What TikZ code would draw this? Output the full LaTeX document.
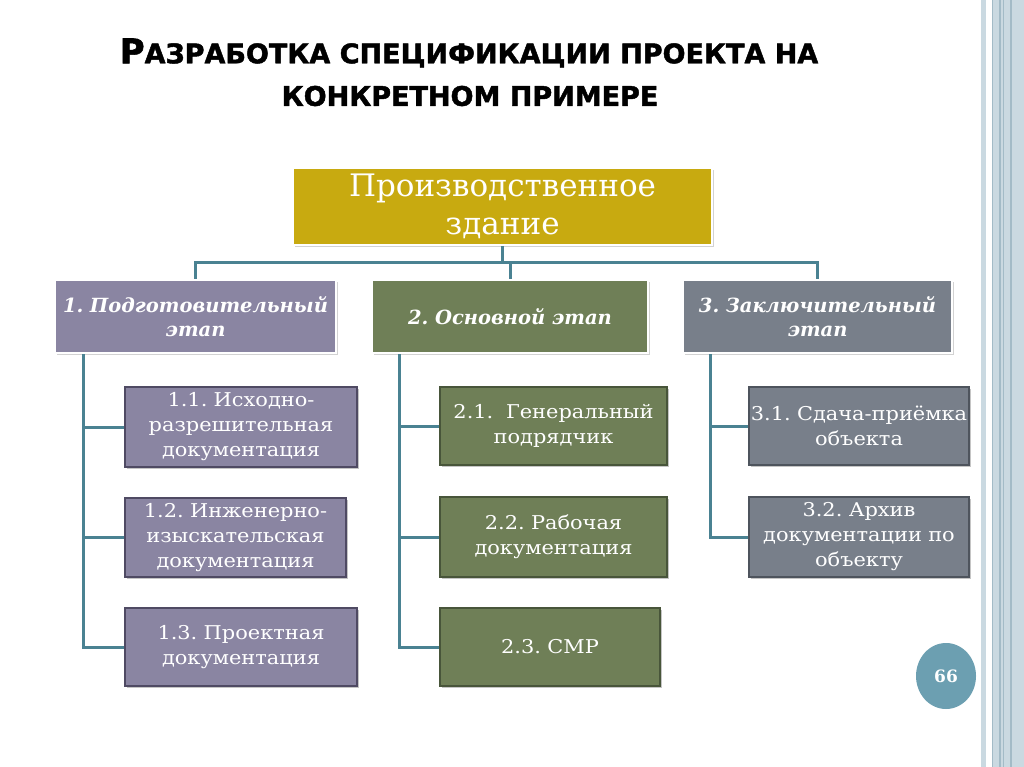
\documentclass[tikz,border=0pt]{standalone}
\usepackage{fontspec}
\setmainfont{DejaVu Serif}
\newfontfamily\titlefont{DejaVu Sans}[FakeBold=1.6]
\newfontfamily\itemfont{DejaVu Serif}[FakeStretch=1.1]
\usetikzlibrary{shadows,shapes.geometric}
\definecolor{goldc}{HTML}{C8AA10}
\definecolor{purplec}{HTML}{8A85A2}
\definecolor{purpled}{HTML}{4F4A63}
\definecolor{greenc}{HTML}{6F7F57}
\definecolor{greend}{HTML}{48553A}
\definecolor{grayc}{HTML}{787F8A}
\definecolor{grayd}{HTML}{4E545D}
\definecolor{connc}{HTML}{4A8292}
\definecolor{circc}{HTML}{6C9FB1}
\definecolor{stripec}{HTML}{CAD9E1}
\definecolor{striped}{HTML}{A3BBC7}
\tikzset{
  topbox/.style={draw=white, line width=2.5pt, fill=goldc, text=white, inner sep=0pt, align=center,
    font=\fontsize{31}{38}\selectfont,
    drop shadow={opacity=0.35, shadow xshift=1.5pt, shadow yshift=-2pt}},
  stagebox/.style={draw=white, line width=2.5pt, text=white, inner sep=0pt, align=center,
    font=\fontsize{19.5}{24}\selectfont\bfseries\itshape,
    drop shadow={opacity=0.35, shadow xshift=1.5pt, shadow yshift=-2pt}},
  itembox/.style={line width=1.6pt, text=white, inner sep=0pt, align=center,
    font=\itemfont\fontsize{19}{25}\selectfont,
    drop shadow={opacity=0.45, shadow xshift=2pt, shadow yshift=-2pt}},
  conn/.style={draw=connc, line width=3pt},
}
\frenchspacing
\begin{document}
\frenchspacing
\begin{tikzpicture}[x=1pt,y=-1pt]
\useasboundingbox (0,0) rectangle (1024,767);
\fill[white] (0,0) rectangle (1024,767);
% right decorative stripes
\fill[stripec] (981,0) rectangle (985.5,767);
\fill[stripec] (991.5,0) rectangle (1024,767);
\foreach \xx in {992.5,1000,1003.5,1011}{\fill[striped] (\xx-0.6,0) rectangle (\xx+0.6,767);}
% title
\node[font=\titlefont\bfseries] (title1) at (469,53)
  {\fontsize{34}{34}\selectfont Р\fontsize{27}{27}\selectfont АЗРАБОТКА СПЕЦИФИКАЦИИ ПРОЕКТА НА};
\node[font=\titlefont\bfseries] (title2) at (470,96)
  {\fontsize{27}{27}\selectfont КОНКРЕТНОМ ПРИМЕРЕ};
% boxes
\node[topbox, minimum width=419pt, minimum height=77pt, text width=410pt] (top) at (502.5,206.5)
  {Производственное\\здание};
\node[stagebox, fill=purplec, minimum width=281pt, minimum height=73pt, text width=280pt] (p1) at (195.5,316.5)
  {1. Подготовительный\\этап};
\node[stagebox, fill=greenc, minimum width=276pt, minimum height=73pt, text width=270pt] (p2) at (510,316.5)
  {2. Основной этап};
\node[stagebox, fill=grayc, minimum width=269pt, minimum height=73pt, text width=268pt] (p3) at (817.5,316.5)
  {3. Заключительный\\этап};
\node[itembox, fill=purplec, draw=purpled, minimum width=232pt, minimum height=80pt, text width=230pt] (c11) at (241,427)
  {1.1. Исходно-\\разрешительная\\документация};
\node[itembox, fill=purplec, draw=purpled, minimum width=221pt, minimum height=79pt, text width=220pt] (c12) at (235.5,537.5)
  {1.2. Инженерно-\\изыскательская\\документация};
\node[itembox, fill=purplec, draw=purpled, minimum width=232pt, minimum height=78pt, text width=230pt] (c13) at (241,647)
  {1.3. Проектная\\документация};
\node[itembox, fill=greenc, draw=greend, minimum width=227pt, minimum height=78pt, text width=226pt] (c21) at (553.5,426)
  {2.1.\ \ Генеральный\\подрядчик};
\node[itembox, fill=greenc, draw=greend, minimum width=227pt, minimum height=80pt, text width=226pt] (c22) at (553.5,537)
  {2.2. Рабочая\\документация};
\node[itembox, fill=greenc, draw=greend, minimum width=220pt, minimum height=78pt, text width=218pt] (c23) at (550,647)
  {2.3. СМР};
\node[itembox, fill=grayc, draw=grayd, minimum width=220pt, minimum height=78pt, text width=220pt] (c31) at (859,426)
  {3.1. Сдача-приёмка\\объекта};
\node[itembox, fill=grayc, draw=grayd, minimum width=220pt, minimum height=80pt, text width=220pt] (c32) at (859,537)
  {3.2. Архив\\документации по\\объекту};
% page number
\node[ellipse, fill=circc, text=white, minimum width=60pt, minimum height=66pt, inner sep=0pt,
  font=\fontsize{17}{17}\selectfont\bfseries] (page) at (946,676) {66};
% connectors
\coordinate (bus) at (503,262);
\coordinate (s1) at (83,0);
\coordinate (s2) at (399,0);
\coordinate (s3) at (710,0);
\draw[conn] (top.south) -- (top.south |- bus);
\draw[conn] (p1.north) -- (p1.north |- bus) -- (p3.north |- bus) -- (p3.north);
\draw[conn] (p2.north |- bus) -- (p2.north);
\draw[conn] (p1.south -| s1) |- (c13.west);
\draw[conn] (c11.west -| s1) -- (c11.west);
\draw[conn] (c12.west -| s1) -- (c12.west);
\draw[conn] (p2.south -| s2) |- (c23.west);
\draw[conn] (c21.west -| s2) -- (c21.west);
\draw[conn] (c22.west -| s2) -- (c22.west);
\draw[conn] (p3.south -| s3) |- (c32.west);
\draw[conn] (c31.west -| s3) -- (c31.west);
\end{tikzpicture}
\end{document}
